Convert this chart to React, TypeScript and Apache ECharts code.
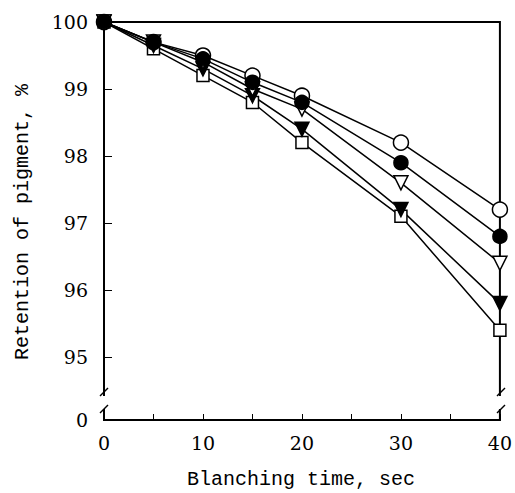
import React, { useEffect, useRef } from "react";
import * as echarts from "echarts";

const times = [0, 5, 10, 15, 20, 30, 40];
const openCircle = [100, 99.7, 99.5, 99.2, 98.9, 98.2, 97.2];
const filledCircle = [100, 99.7, 99.45, 99.1, 98.8, 97.9, 96.8];
const openTriangle = [100, 99.7, 99.4, 99.0, 98.7, 97.6, 96.4];
const filledTriangle = [100, 99.65, 99.3, 98.9, 98.4, 97.2, 95.8];
const openSquare = [100, 99.6, 99.2, 98.8, 98.2, 97.1, 95.4];

const yTicks = [95, 96, 97, 98, 99, 100];
const yMin = 94.06;
const xLabels = [0, 10, 20, 30, 40];

const serif = "DejaVu Serif";
const mono = "Liberation Mono";

function pairs(vals: number[]) {
  return times.map((t, i) => [t, vals[i]]);
}

export default function App() {
  const ref = useRef<HTMLDivElement>(null);
  useEffect(() => {
    if (!ref.current) return;
    const chart = echarts.init(ref.current, null, { renderer: "svg" });
    const mk = (name: string, vals: number[], symbol: string, filled: boolean, rotate = 0, size = 14) => ({
      name,
      type: "line",
      data: pairs(vals),
      symbol,
      symbolSize: size,
      symbolRotate: rotate,
      clip: false,
      lineStyle: { color: "#000", width: 1.5 },
      itemStyle: { color: filled ? "#000" : "#fff", borderColor: "#000", borderWidth: 1.5 },
    });
    const white = (x: number, y: number, w: number, h: number) => ({
      type: "rect",
      shape: { x, y, width: w, height: h },
      style: { fill: "#fff" },
      z: 100,
    });
    const seg = (x1: number, y1: number, x2: number, y2: number) => ({
      type: "line",
      shape: { x1, y1, x2, y2 },
      style: { stroke: "#000", lineWidth: 1.5 },
      z: 101,
    });
    chart.setOption({
      animation: false,
      grid: {
        left: 104,
        right: 14,
        top: 22,
        bottom: 73,
        show: true,
        borderColor: "#000",
        borderWidth: 2,
      },
      xAxis: {
        type: "value",
        min: 0,
        max: 40,
        interval: 5,
        axisLine: { lineStyle: { color: "#000", width: 2 } },
        axisTick: { inside: true, length: 6, lineStyle: { color: "#000", width: 1 } },
        splitLine: { show: false },
        axisLabel: {
          color: "#000",
          fontFamily: serif,
          fontSize: 19,
          margin: 13,
          formatter: (v: number) => (xLabels.includes(v) ? String(v) : ""),
        },
      },
      yAxis: {
        type: "value",
        min: yMin,
        max: 100,
        axisLine: { lineStyle: { color: "#000", width: 2 } },
        axisTick: {
          inside: true,
          length: 8,
          customValues: yTicks,
          lineStyle: { color: "#000", width: 1 },
        },
        splitLine: { show: false },
        axisLabel: {
          color: "#000",
          fontFamily: serif,
          fontSize: 19,
          margin: 16,
          customValues: [yMin, ...yTicks],
          formatter: (v: number) => (v < 94.5 ? "0" : String(Math.round(v))),
        },
      },
      series: [
        mk("open square", openSquare, "rect", false, 0, 12),
        mk("filled triangle", filledTriangle, "triangle", true, 180, 14),
        mk("open triangle", openTriangle, "triangle", false, 180, 14),
        mk("open circle", openCircle, "circle", false, 0, 15),
        mk("filled circle", filledCircle, "circle", true, 0, 14),
      ],
      graphic: [
        white(99, 396, 10, 13),
        seg(100, 396, 108, 388),
        seg(100, 413, 108, 405),
        white(496, 396, 10, 13),
        seg(497, 396, 505, 388),
        seg(497, 413, 505, 405),
        {
          type: "text",
          x: 301,
          y: 479,
          style: {
            text: "Blanching time, sec",
            font: `20px "${mono}"`,
            fill: "#000",
            textAlign: "center",
            textVerticalAlign: "middle",
          },
        },
        {
          type: "text",
          x: 22,
          y: 222,
          rotation: Math.PI / 2,
          style: {
            text: "Retention of pigment, %",
            font: `20px "${mono}"`,
            fill: "#000",
            textAlign: "center",
            textVerticalAlign: "middle",
          },
        },
      ],
    });
    return () => chart.dispose();
  }, []);
  return (
    <div
      ref={ref}
      style={{ position: "absolute", left: 0, top: 0, width: 515, height: 493 }}
    />
  );
}
